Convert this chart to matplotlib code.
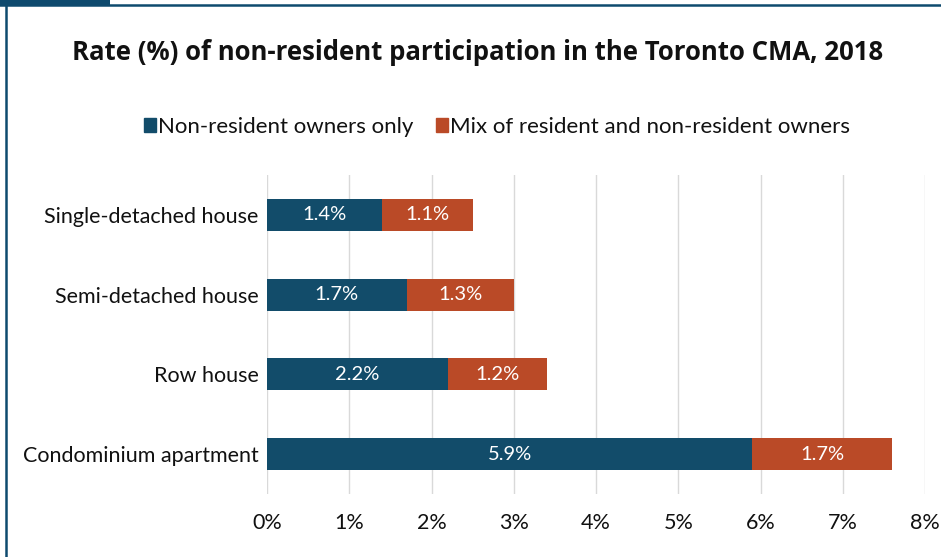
import matplotlib
matplotlib.use("Agg")
import matplotlib.pyplot as plt
from matplotlib.patches import Rectangle
from matplotlib.lines import Line2D

plt.rcParams['font.family'] = ['Lato', 'DejaVu Sans']

# data
categories = ['Single-detached house', 'Semi-detached house', 'Row house', 'Condominium apartment']
nonres_only = [1.4, 1.7, 2.2, 5.9]
mixed = [1.1, 1.3, 1.2, 1.7]
series_names = ['Non-resident owners only', 'Mix of resident and non-resident owners']
x_ticks = [0, 1, 2, 3, 4, 5, 6, 7, 8]

blue = '#124C6A'
orange = '#BA4A27'

fig = plt.figure(figsize=(9.41, 5.57), dpi=100)
ax = fig.add_axes([267 / 941, 1 - 494 / 557, (925 - 267) / 941, (494 - 175) / 557])

y = list(range(len(categories)))[::-1]
ax.barh(y, nonres_only, height=0.4, color=blue, zorder=3)
ax.barh(y, mixed, left=nonres_only, height=0.4, color=orange, zorder=3)

for yi, a, b in zip(y, nonres_only, mixed):
    ax.text(a / 2, yi, f'{a:.1f}%', ha='center', va='center', color='white', fontsize=14.5, zorder=4)
    ax.text(a + b / 2, yi, f'{b:.1f}%', ha='center', va='center', color='white', fontsize=14.5, zorder=4)

ax.set_xlim(0, 8)
ax.set_ylim(-0.5, 3.5)
ax.set_xticks(x_ticks)
ax.set_xticklabels([f'{t}%' for t in x_ticks], fontsize=15.5, color='#111111')
ax.set_yticks(y)
ax.set_yticklabels(categories, fontsize=15.5, color='#111111')
ax.tick_params(length=0, pad=6)
ax.tick_params(axis='x', pad=14)
ax.grid(axis='x', color='#D9D9D9', linewidth=1, zorder=0)
for s in ax.spines.values():
    s.set_visible(False)

fig.text(478 / 941, 1 - 53 / 557, 'Rate (%) of non-resident participation in the Toronto CMA, 2018',
         ha='center', va='center', fontsize=18.5, fontweight='bold', color='#111111',
         family=['Open Sans', 'DejaVu Sans'])

handles = [Rectangle((0, 0), 1, 1, color=blue), Rectangle((0, 0), 1, 1, color=orange)]
fig.legend(handles, series_names, loc='center', bbox_to_anchor=(497 / 941, 1 - 127 / 557),
           ncol=2, frameon=False, fontsize=16, handlelength=0.55, handleheight=0.55,
           handletextpad=0.1, columnspacing=1.0, labelcolor='#111111')

# frame around the panel
fig.add_artist(Rectangle((0, 1 - 5 / 557), 110 / 941, 5 / 557, transform=fig.transFigure,
                         color='#0E4A6E', linewidth=0))
fig.add_artist(Line2D([0, 1], [1 - 4.5 / 557, 1 - 4.5 / 557], transform=fig.transFigure,
                      color='#0E4A6E', linewidth=1.8))
fig.add_artist(Line2D([6 / 941, 6 / 941], [0, 1], transform=fig.transFigure,
                      color='#0E4A6E', linewidth=1.8))

fig.savefig('out.png', dpi=100)
